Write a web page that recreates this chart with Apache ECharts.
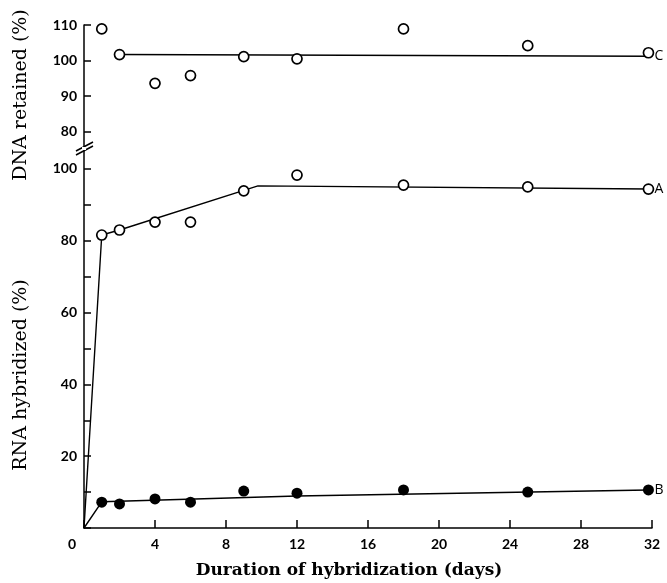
<!DOCTYPE html>
<html>
<head>
<meta charset="utf-8">
<script src="https://cdn.jsdelivr.net/npm/echarts@6/dist/echarts.min.js"></script>
<style>
html,body{margin:0;padding:0;background:#fff;}
#chart{width:667px;height:583px;}
</style>
</head>
<body>
<div id="chart"></div>
<script>
// ---- data ----
const days = [1, 2, 4, 6, 9, 12, 18, 25, 31.8];
const dnaRetainedC = [108.9, 101.7, 93.6, 95.8, 101.1, 100.5, 108.9, 104.2, 102.2];
const rnaHybridA = [81.6, 83.0, 85.2, 85.2, 93.9, 98.3, 95.5, 95.0, 94.4];
const rnaHybridB = [7.2, 6.7, 8.1, 7.2, 10.3, 9.7, 10.6, 10.0, 10.6];

const fitCx = [2, 31.8];
const fitCy = [101.7, 101.2];
const fitAx = [0, 1, 2, 9.8, 31.8];
const fitAy = [0, 81.6, 83.0, 95.3, 94.4];
const fitBx = [0, 1, 12, 31.8];
const fitBy = [0, 7.3, 8.9, 10.6];

const xTicks = [0, 4, 8, 12, 16, 20, 24, 28, 32];
const topYLabels = [80, 90, 100, 110];
const bottomYTicks = [0, 10, 20, 30, 40, 50, 60, 70, 80, 90, 100];
const bottomYLabels = [20, 40, 60, 80, 100];

const labelC = 'C', labelA = 'A', labelB = 'B';
const xTitle = 'Duration of hybridization (days)';
const topTitle = 'DNA retained (%)';
const bottomTitle = 'RNA hybridized (%)';

// ---- build ----
const zip = (xs, ys) => xs.map((x, i) => [x, ys[i]]);
const labelFont = {fontFamily: 'Lato', fontWeight: 'bold', fontSize: 14, color: '#000'};
const axisLineStyle = {color: '#000', width: 1.5};

const openSym = {symbol: 'circle', symbolSize: 10,
  itemStyle: {color: '#fff', borderColor: '#000', borderWidth: 1.7, opacity: 1}};
const filledSym = {symbol: 'circle', symbolSize: 11,
  itemStyle: {color: '#000', borderColor: '#000', borderWidth: 0, opacity: 1}};
const fitLine = {type: 'line', symbol: 'none', silent: true,
  lineStyle: {color: '#000', width: 1.4}, z: 2, animation: false};

const chart = echarts.init(document.getElementById('chart'), null, {renderer: 'canvas'});
chart.setOption({
  backgroundColor: '#fff',
  animation: false,
  grid: [
    {left: 84, right: 15, top: 25, height: 121},
    {left: 84, right: 15, top: 151, bottom: 55}
  ],
  xAxis: [
    {gridIndex: 0, type: 'value', min: 0, max: 32, show: false},
    {gridIndex: 1, type: 'value', min: 0, max: 32, interval: 4,
      axisLine: {show: true, onZero: false, lineStyle: axisLineStyle},
      axisTick: {show: true, inside: true, length: 8, customValues: xTicks, lineStyle: {color: '#000', width: 1.5}},
      axisLabel: Object.assign({margin: 9, customValues: xTicks, alignMinLabel: 'right',
        formatter: v => v === 0 ? '{z|0}' : String(v),
        rich: {z: {fontFamily: 'Lato', fontWeight: 'bold', fontSize: 14, color: '#000', padding: [0, 8, 0, 0]}}}, labelFont),
      splitLine: {show: false}}
  ],
  yAxis: [
    {gridIndex: 0, type: 'value', min: 76, max: 110,
      axisLine: {show: true, onZero: false, lineStyle: axisLineStyle},
      axisTick: {show: true, inside: true, length: 7, customValues: topYLabels, lineStyle: {color: '#000', width: 1.5}},
      axisLabel: Object.assign({margin: 7, customValues: topYLabels}, labelFont),
      splitLine: {show: false}},
    {gridIndex: 1, type: 'value', min: 0, max: 105,
      axisLine: {show: true, onZero: false, lineStyle: axisLineStyle},
      axisTick: {show: true, inside: true, length: 7, customValues: bottomYTicks, lineStyle: {color: '#000', width: 1.5}},
      axisLabel: Object.assign({margin: 7, customValues: bottomYLabels}, labelFont),
      splitLine: {show: false}}
  ],
  series: [
    Object.assign({}, fitLine, {xAxisIndex: 0, yAxisIndex: 0, data: zip(fitCx, fitCy),
      endLabel: Object.assign({show: true, formatter: labelC, distance: 6}, labelFont, {fontWeight: 'normal', fontFamily: 'Open Sans'})}),
    Object.assign({}, fitLine, {xAxisIndex: 1, yAxisIndex: 1, data: zip(fitAx, fitAy),
      endLabel: Object.assign({show: true, formatter: labelA, distance: 6}, labelFont, {fontWeight: 'normal', fontFamily: 'Open Sans'})}),
    Object.assign({}, fitLine, {xAxisIndex: 1, yAxisIndex: 1, data: zip(fitBx, fitBy),
      endLabel: Object.assign({show: true, formatter: labelB, distance: 6}, labelFont, {fontWeight: 'normal', fontFamily: 'Open Sans'})}),
    Object.assign({type: 'scatter', xAxisIndex: 0, yAxisIndex: 0, z: 5,
      data: zip(days, dnaRetainedC)}, openSym),
    Object.assign({type: 'scatter', xAxisIndex: 1, yAxisIndex: 1, z: 5,
      data: zip(days, rnaHybridA)}, openSym),
    Object.assign({type: 'scatter', xAxisIndex: 1, yAxisIndex: 1, z: 5,
      data: zip(days, rnaHybridB)}, filledSym)
  ],
  graphic: [
    {type: 'text', x: 349, y: 571,
      style: {text: xTitle, font: 'bold 17px "DejaVu Serif"', fill: '#000', align: 'center', verticalAlign: 'middle'}},
    {type: 'text', x: 12, y: 95, rotation: Math.PI / 2,
      style: {text: topTitle, font: '19px "DejaVu Serif"', fill: '#000', align: 'center', verticalAlign: 'top'}},
    {type: 'text', x: 12, y: 375, rotation: Math.PI / 2,
      style: {text: bottomTitle, font: '19px "DejaVu Serif"', fill: '#000', align: 'center', verticalAlign: 'top'}},
    {type: 'line', shape: {x1: 76, y1: 151, x2: 93, y2: 142}, style: {stroke: '#000', lineWidth: 1.5}},
    {type: 'line', shape: {x1: 76, y1: 155, x2: 93, y2: 146}, style: {stroke: '#000', lineWidth: 1.5}},
    {type: 'rect', shape: {x: 82, y: 147, width: 4, height: 3}, style: {fill: '#fff'}, z: 10}
  ]
});
</script>
</body>
</html>
